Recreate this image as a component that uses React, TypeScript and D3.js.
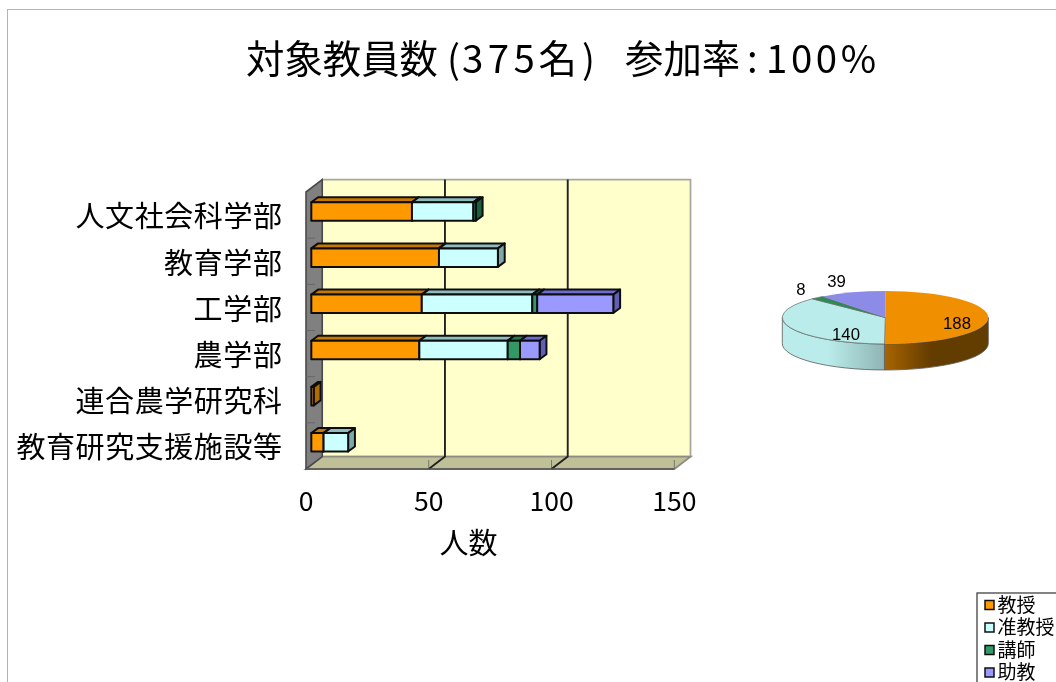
import React from "react";
import * as d3 from "d3";

const categories = ["人文社会科学部", "教育学部", "工学部", "農学部", "連合農学研究科", "教育研究支援施設等"];
const seriesNames = ["教授", "准教授", "講師", "助教"];
const professors = [41, 52, 45, 44, 1, 5];
const associates = [25, 24, 45, 36, 0, 10];
const lecturers = [1, 0, 2, 5, 0, 0];
const assistants = [0, 0, 31, 8, 0, 0];
const xTicks = [0, 50, 100, 150];
const pieValues = [188, 140, 8, 39];
const titleParts = ["対象教員数", "(", "375", "名", ")", "参加率", ":", "100%"];
const xTitle = "人数";

const faceFront = ["#ff9900", "#ccffff", "#339966", "#9999ff"];
const faceTop = ["#c67800", "#8fbdbd", "#277a50", "#6c6cd0"];
const faceSide = ["#b06c00", "#80a8a8", "#1f5f40", "#5f5fb4"];
const pieTop = ["#f09000", "#b9ecea", "#2e8b57", "#8c8ce8"];
const pieDark = [["#a86400", "#643c00"], ["#b9ecea", "#8fb4b4"]];
const font = "'Noto Sans CJK JP', sans-serif";

const W = 1056, H = 682;
const wallX0 = 306, wallX1 = 674.3, wallTop = 192, wallBottom = 469;
const depthX = 16.2, depthY = 12.4;
const barOffX = 5.3, barOffY = 3.6, barDX = 6.8, barDY = 5;

const x = d3.scaleLinear().domain([0, 150]).range([wallX0, wallX1]);
const y = d3.scaleBand<string>().domain(categories).range([wallTop, wallBottom]).paddingInner(0.6).paddingOuter(0.3);
const yStep = d3.scaleBand<string>().domain(categories).range([wallTop, wallBottom]);

const rows = categories.map((c, i) => ({
  cat: c,
  s0: professors[i],
  s1: associates[i],
  s2: lecturers[i],
  s3: assistants[i],
}));
const stacked = d3.stack<any>().keys(["s0", "s1", "s2", "s3"])(rows);

const poly = (pts: number[][]) => pts.map((p) => p.join(",")).join(" ");

function Bars() {
  const h = y.bandwidth();
  return (
    <g stroke="#101010" strokeWidth={2} strokeLinejoin="round">
      {categories.map((c, ci) => (
        <g key={c}>
          {stacked.map((s, si) => {
            const [a, b] = s[ci];
            if (b - a <= 0) return null;
            const x0 = x(a) + barOffX;
            const x1 = x(b) + barOffX;
            const t = (y(c) as number) - barOffY;
            const bt = t + h;
            return (
              <g key={si}>
                <polygon fill={faceTop[si]} points={poly([[x0, t], [x0 + barDX, t - barDY], [x1 + barDX, t - barDY], [x1, t]])} />
                <polygon fill={faceSide[si]} points={poly([[x1, t], [x1 + barDX, t - barDY], [x1 + barDX, bt - barDY], [x1, bt]])} />
                <rect x={x0} y={t} width={x1 - x0} height={h} fill={faceFront[si]} />
              </g>
            );
          })}
        </g>
      ))}
    </g>
  );
}

function Plot() {
  return (
    <g>
      <polygon fill="#ffffcc" stroke="#a8a8a0" strokeWidth={1.8} points={poly([[wallX0 + depthX, wallTop - depthY], [wallX1 + depthX, wallTop - depthY], [wallX1 + depthX, wallBottom - depthY], [wallX0 + depthX, wallBottom - depthY]])} />
      <polygon fill="#c0c098" stroke="#8c8c80" strokeWidth={1.8} points={poly([[wallX0, wallBottom], [wallX0 + depthX, wallBottom - depthY], [wallX1 + depthX, wallBottom - depthY], [wallX1, wallBottom]])} />
      <polygon fill="#808080" stroke="#4a4a4a" strokeWidth={1.6} points={poly([[wallX0, wallTop], [wallX0 + depthX, wallTop - depthY], [wallX0 + depthX, wallBottom - depthY], [wallX0, wallBottom]])} />
      {categories.slice(1).map((c) => {
        const t = yStep(c) as number;
        return <line key={c} x1={wallX0} x2={wallX0 + 9} y1={t} y2={t} stroke="#666" strokeWidth={1} />;
      })}
      {xTicks.slice(1).map((v) => (
        <g key={v}>
          <line x1={x(v)} x2={x(v)} y1={wallBottom - 9} y2={wallBottom} stroke="#77776a" strokeWidth={1} />
          {v < 150 && (
            <polyline fill="none" stroke="#222" strokeWidth={1.9} points={poly([[x(v) + depthX, wallTop - depthY], [x(v) + depthX, wallBottom - depthY], [x(v), wallBottom]])} />
          )}
        </g>
      ))}
      <line x1={wallX0} x2={wallX1} y1={wallBottom} y2={wallBottom} stroke="#555" strokeWidth={1.6} />
      <Bars />
      {categories.map((c) => (
        <text key={c} x={282} y={(yStep(c) as number) + yStep.bandwidth() / 2 + 4.5} fontFamily={font} fontSize={29} textLength={c.length * 29.5} lengthAdjust="spacing" textAnchor="end" dominantBaseline="middle" fill="#000">{c}</text>
      ))}
      {xTicks.map((v) => (
        <text key={v} x={x(v)} y={511} fontFamily={font} fontSize={26.5} textAnchor="middle" fill="#000">{v}</text>
      ))}
      <text x={468.5} y={554} fontFamily={font} fontSize={29} textAnchor="middle" fill="#000">{xTitle}</text>
    </g>
  );
}

function Pie3D() {
  const cx = 885.3, cy = 317.5, rx = 103, ry = 26.5, depth = 26;
  const arcs = d3.pie<number>().sort(null)(pieValues);
  const pt = (a: number) => [cx + rx * Math.sin(a), cy - ry * Math.cos(a)];
  const slicePath = (s: number, e: number) => {
    const [x0, y0] = pt(s);
    const [x1, y1] = pt(e);
    return `M${cx},${cy}L${x0},${y0}A${rx},${ry} 0 ${e - s > Math.PI ? 1 : 0} 1 ${x1},${y1}Z`;
  };
  const sidePath = (s: number, e: number) => {
    const [x0, y0] = pt(s);
    const [x1, y1] = pt(e);
    return `M${x0},${y0}A${rx},${ry} 0 0 1 ${x1},${y1}L${x1},${y1 + depth}A${rx},${ry} 0 0 0 ${x0},${y0 + depth}Z`;
  };
  const labels = [[957, 329], [846, 339.5], [801, 294.5], [836.5, 287]];
  return (
    <g>
      <defs>
        <linearGradient id="sideA" x1="0" x2="1" y1="0" y2="0">
          <stop offset="0" stopColor={pieDark[0][0]} />
          <stop offset="0.45" stopColor={pieDark[0][1]} />
          <stop offset="1" stopColor={pieDark[0][1]} />
        </linearGradient>
        <linearGradient id="sideB" x1="0" x2="1" y1="0" y2="0">
          <stop offset="0" stopColor={pieDark[1][0]} />
          <stop offset="0.45" stopColor={pieDark[1][0]} />
          <stop offset="1" stopColor={pieDark[1][1]} />
        </linearGradient>
      </defs>
      <path d={sidePath(Math.PI / 2, arcs[0].endAngle)} fill="url(#sideA)" stroke="#5a5a5a" strokeWidth={0.8} />
      <path d={sidePath(arcs[0].endAngle, (3 * Math.PI) / 2)} fill="url(#sideB)" stroke="#5a5a5a" strokeWidth={0.8} />
      {arcs.map((a, i) => (
        <path key={i} d={slicePath(a.startAngle, a.endAngle)} fill={pieTop[i]} stroke={i === 0 || i === 3 ? "none" : "#6a6a6a"} strokeWidth={0.7} />
      ))}
      {arcs.map((a, i) => (
        <text key={i} x={labels[i][0]} y={labels[i][1]} fontFamily="'Liberation Sans', sans-serif" fontSize={17} textLength={String(pieValues[i]).length * 9.3} lengthAdjust="spacingAndGlyphs" textAnchor="middle" fill="#000">{pieValues[i]}</text>
      ))}
    </g>
  );
}

function Legend() {
  const lx = 977, ly = 593;
  return (
    <g>
      <rect x={lx} y={ly} width={100} height={110} fill="#fff" stroke="#333" strokeWidth={1.2} />
      {seriesNames.map((n, i) => {
        const c = ly + 12 + i * 22.5;
        return (
          <g key={n}>
            <rect x={985} y={c - 4.5} width={9} height={9} fill={faceFront[i]} stroke="#111" strokeWidth={1.5} />
            <text x={997.5} y={c + 6.8} fontFamily={font} fontSize={19} fill="#000">{n}</text>
          </g>
        );
      })}
    </g>
  );
}

function Title() {
  const xs = [246, 447, 462, 538.5, 582, 625, 747, 766];
  const spacing = [0, 0, 4.5, 0, 0, 0, 0, 3.6];
  return (
    <text y={73} fontFamily={font} fontSize={38.4} fill="#000">
      {titleParts.map((t, i) => (
        <tspan key={i} x={xs[i]} letterSpacing={spacing[i]}>{t}</tspan>
      ))}
    </text>
  );
}

export default function App() {
  return (
    <svg width={W} height={H} viewBox={`0 0 ${W} ${H}`} style={{ position: "fixed", left: 0, top: 0, display: "block" }}>
      <defs>
        <filter id="soft" x="0" y="0" width="100%" height="100%">
          <feGaussianBlur stdDeviation={0.3} />
        </filter>
      </defs>
      <rect width={W} height={H} fill="#fff" />
      <g filter="url(#soft)">
        <rect x={7.5} y={9.5} width={W + 20} height={H + 20} fill="#fff" stroke="#b4b4b4" strokeWidth={1} />
        <Title />
        <Plot />
        <Pie3D />
        <Legend />
      </g>
    </svg>
  );
}
